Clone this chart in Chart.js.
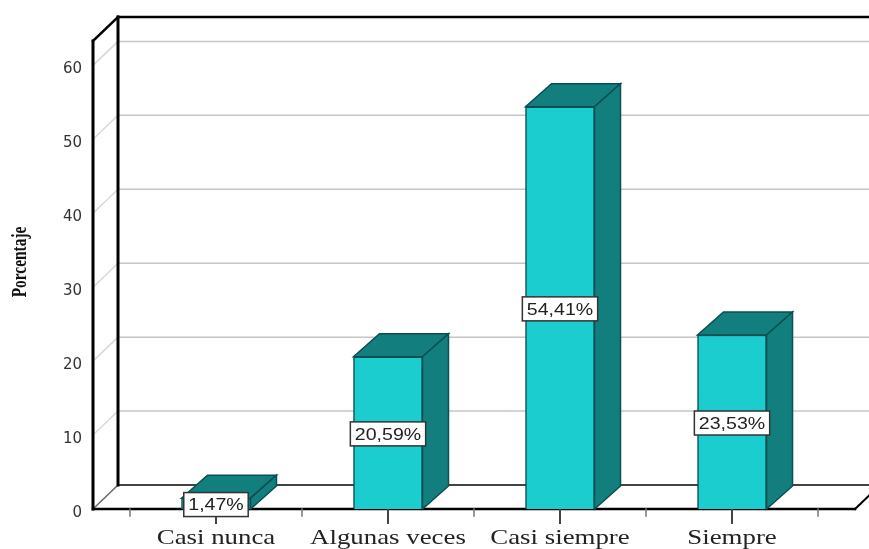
<!DOCTYPE html>
<html>
<head>
<meta charset="utf-8">
<title>Porcentaje</title>
<script src="https://cdn.jsdelivr.net/npm/chart.js@4"></script>
<style>
  html, body { margin: 0; padding: 0; background: #fff; }
  canvas { display: block; }
</style>
</head>
<body>
<canvas id="chart" width="869" height="549"></canvas>
<script>
const categories = ['Casi nunca', 'Algunas veces', 'Casi siempre', 'Siempre'];
const percentages = [1.47, 20.59, 54.41, 23.53];
const yTicks = [0, 10, 20, 30, 40, 50, 60];

// depth of the fake 3D box and of each bar
const WALL_DX = 25, WALL_DY = 24;
const BAR_DX = 26, BAR_DY = 23;

const FACE = '#1ccdcf', SHADE = '#127f7e', EDGE = '#0b4f50';

function line(ctx, x1, y1, x2, y2, color, width) {
  ctx.strokeStyle = color;
  ctx.lineWidth = width;
  ctx.beginPath();
  ctx.moveTo(x1, y1);
  ctx.lineTo(x2, y2);
  ctx.stroke();
}

function poly(ctx, pts, fill, stroke) {
  ctx.beginPath();
  pts.forEach((p, i) => i ? ctx.lineTo(p[0], p[1]) : ctx.moveTo(p[0], p[1]));
  ctx.closePath();
  ctx.fillStyle = fill;
  ctx.fill();
  ctx.strokeStyle = stroke;
  ctx.lineWidth = 1.5;
  ctx.stroke();
}

// the labels are wider or narrower than any installed face, so scale them along the text
function wideText(ctx, text, x, y, font, stretch, color) {
  ctx.save();
  ctx.translate(x, y);
  ctx.scale(stretch, 1);
  ctx.font = font;
  ctx.fillStyle = color;
  ctx.textAlign = 'center';
  ctx.textBaseline = 'middle';
  ctx.fillText(text, 0, 0);
  ctx.restore();
}

const box3d = {
  id: 'box3d',
  beforeDatasetsDraw(chart) {
    const { ctx, chartArea: a, scales: { x, y } } = chart;
    const backLeft = a.left + WALL_DX;
    const backFloor = a.bottom - WALL_DY;
    const backTop = a.top - WALL_DY;
    const far = a.right + WALL_DX;
    ctx.save();

    // gridlines on the back wall and their run across the left wall
    yTicks.forEach(t => {
      if (t === 0) return;
      const py = y.getPixelForValue(t);
      line(ctx, a.left, py, backLeft, py - WALL_DY, '#d8d8d8', 1.5);
      line(ctx, backLeft, py - WALL_DY, far, py - WALL_DY, '#c6c6c6', 1.5);
    });

    // frame
    ctx.lineCap = 'square';
    line(ctx, backLeft, backFloor, far, backFloor, '#444', 2);
    line(ctx, a.left, a.bottom, backLeft, backFloor, '#666', 1.5);
    line(ctx, a.right, a.bottom, far, backFloor, '#000', 2);
    line(ctx, backLeft, backTop, far, backTop, '#000', 2.5);
    line(ctx, a.left, a.top, backLeft, backTop, '#000', 2.5);
    line(ctx, backLeft, backTop, backLeft, backFloor, '#000', 3);
    line(ctx, a.left, a.top, a.left, a.bottom, '#000', 3);
    line(ctx, a.left, a.bottom, a.right, a.bottom, '#000', 2.5);

    // ticks below the floor: long under a category, short between them
    categories.forEach((c, i) => {
      const px = x.getPixelForValue(i);
      line(ctx, px, a.bottom, px, a.bottom + 14, '#444', 2);
      line(ctx, x.getPixelForValue(i - 0.5), a.bottom, x.getPixelForValue(i - 0.5), a.bottom + 7, '#777', 1.5);
    });
    const lastPx = x.getPixelForValue(categories.length - 0.5);
    line(ctx, lastPx, a.bottom, lastPx, a.bottom + 7, '#777', 1.5);

    // top and side of every bar
    chart.getDatasetMeta(0).data.forEach(bar => {
      const l = bar.x - bar.width / 2, r = bar.x + bar.width / 2;
      poly(ctx, [[l, bar.y], [r, bar.y], [r + BAR_DX, bar.y - BAR_DY], [l + BAR_DX, bar.y - BAR_DY]], SHADE, EDGE);
      poly(ctx, [[r, bar.y], [r + BAR_DX, bar.y - BAR_DY], [r + BAR_DX, bar.base - BAR_DY], [r, bar.base]], SHADE, EDGE);
    });
    ctx.restore();
  },
  afterDatasetsDraw(chart) {
    const { ctx, chartArea: a, scales: { x } } = chart;
    ctx.save();

    // value boxes, halfway up the front of each bar
    chart.getDatasetMeta(0).data.forEach((bar, i) => {
      const text = percentages[i].toFixed(2).replace('.', ',') + '%';
      ctx.font = '17px "Liberation Sans"';
      const w = ctx.measureText(text).width * 1.15 + 9;
      const cy = (bar.y + bar.base) / 2 + 1;
      ctx.fillStyle = '#fff';
      ctx.strokeStyle = '#333';
      ctx.lineWidth = 1.5;
      ctx.fillRect(bar.x - w / 2, cy - 12, w, 24);
      ctx.strokeRect(bar.x - w / 2, cy - 12, w, 24);
      wideText(ctx, text, bar.x, cy + 1, '17px "Liberation Sans"', 1.15, '#222');
    });

    // category names
    categories.forEach((c, i) => {
      wideText(ctx, c, x.getPixelForValue(i), a.bottom + 29, '22px "Liberation Serif"', 1.22, '#222');
    });

    // axis title, tall and squeezed along its length
    ctx.translate(20, 262);
    ctx.rotate(-Math.PI / 2);
    wideText(ctx, 'Porcentaje', 0, 0, 'bold 22px "Liberation Serif"', 0.7, '#111');
    ctx.restore();
  }
};

new Chart(document.getElementById('chart'), {
  type: 'bar',
  data: {
    datasets: [{
      data: percentages.map((v, i) => ({ x: i, y: v })),
      backgroundColor: FACE,
      borderColor: EDGE,
      borderWidth: 1.5,
      barThickness: 69
    }]
  },
  options: {
    responsive: false,
    animation: false,
    layout: { padding: { top: 41, right: 14, left: 0, bottom: 0 } },
    plugins: { legend: { display: false }, tooltip: { enabled: false } },
    scales: {
      x: {
        type: 'linear',
        offset: false,
        min: -0.715,
        max: 3.715,
        grid: { display: false, drawTicks: false },
        border: { display: false },
        ticks: { display: false },
        afterFit(scale) { scale.height = 40; }
      },
      y: {
        min: 0,
        max: 63.3,
        afterBuildTicks(scale) { scale.ticks = yTicks.map(v => ({ value: v })); },
        grid: { display: false, drawTicks: false },
        border: { display: false },
        ticks: {
          padding: 11,
          labelOffset: 4,
          color: '#333',
          font: { family: '"DejaVu Sans"', size: 15 }
        },
        afterFit(scale) { scale.width = 93; }
      }
    }
  },
  plugins: [box3d]
});
</script>
</body>
</html>
